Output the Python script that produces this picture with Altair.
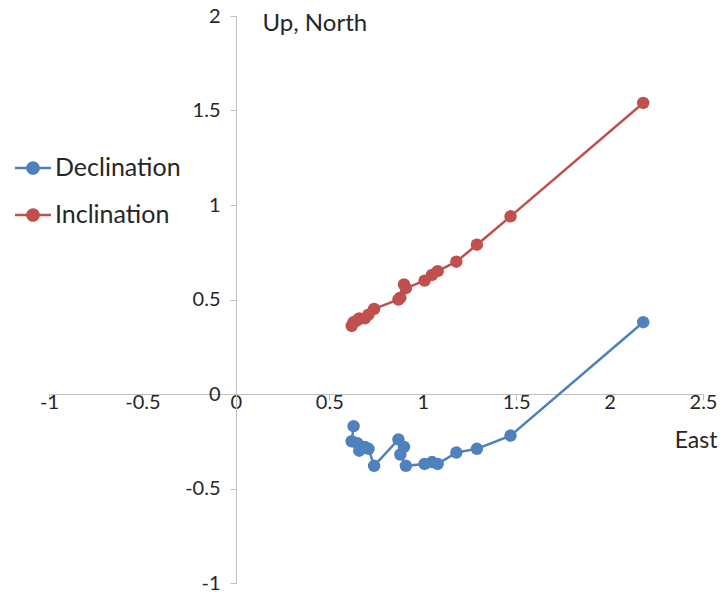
import altair as alt
import pandas as pd

# East coordinate shared by both series (data order as connected in the chart)
east = [2.18, 1.47, 1.29, 1.18, 1.08, 1.05, 1.01, 0.91, 0.88, 0.90, 0.87,
        0.74, 0.71, 0.69, 0.66, 0.65, 0.62, 0.63]
declination = [0.38, -0.22, -0.29, -0.31, -0.37, -0.36, -0.37, -0.38, -0.32,
               -0.28, -0.24, -0.38, -0.29, -0.28, -0.30, -0.26, -0.25, -0.17]
inclination = [1.54, 0.94, 0.79, 0.70, 0.65, 0.63, 0.60, 0.56, 0.51, 0.58,
               0.50, 0.45, 0.42, 0.40, 0.40, 0.39, 0.36, 0.38]

series_names = ["Declination", "Inclination"]
series_colors = ["#4F81BD", "#C0504D"]
x_ticks = [-1, -0.5, 0, 0.5, 1, 1.5, 2, 2.5]
y_ticks = [-1, -0.5, 0, 0.5, 1, 1.5, 2]

rows = []
for i, (e, d) in enumerate(zip(east, declination)):
    rows.append({"east": e, "value": d, "series": series_names[0], "idx": i})
for i, (e, v) in enumerate(zip(east, inclination)):
    rows.append({"east": e, "value": v, "series": series_names[1], "idx": i})
df = pd.DataFrame(rows)

FONT = "Lato"
AXIS_GREY = "#BFBFBF"
TEXT = "#262626"

W, H = 654, 567

x_enc = alt.X(
    "east:Q",
    scale=alt.Scale(domain=[-1, 2.5], nice=False, zero=False),
    axis=alt.Axis(
        values=x_ticks, labelExpr="datum.value + ''", offset=-189,
        grid=False, domainColor=AXIS_GREY, tickColor=AXIS_GREY, tickSize=6,
        labelPadding=-8, labelFontSize=20, labelFont=FONT, labelColor=TEXT,
        title="East", titleFont=FONT, titleFontSize=23, titleFontWeight="normal",
        titleColor=TEXT, titleX=668, titleY=46, titleAlign="right",
        titleBaseline="middle", labelFlush=False, labelOverlap=False,
    ),
)
y_enc = alt.Y(
    "value:Q",
    scale=alt.Scale(domain=[-1, 2], nice=False, zero=False),
    axis=alt.Axis(
        values=y_ticks, labelExpr="datum.value + ''", offset=-187,
        grid=False, domainColor=AXIS_GREY, tickColor=AXIS_GREY, tickSize=6,
        labelPadding=10, labelFontSize=20, labelFont=FONT, labelColor=TEXT,
        title="Up, North", titleFont=FONT, titleFontSize=24,
        titleFontWeight="normal", titleColor=TEXT, titleAngle=0,
        titleX=26, titleY=7, titleAlign="left", titleBaseline="middle",
        labelFlush=False, labelOverlap=False,
    ),
)

color_scale = alt.Scale(domain=series_names, range=series_colors)

# line segment plus filled marker, both wound clockwise so the overlap stays filled
legend_symbol = ("M-1,-0.07L1,-0.07L1,0.07L-1,0.07Z "
                 "M-0.38,0A0.38,0.38 0 1,1 0.38,0A0.38,0.38 0 1,1 -0.38,0Z")

legend = alt.Legend(
    title=None, orient="none", legendX=-34, legendY=134,
    symbolType=legend_symbol, symbolSize=1296, symbolOpacity=1,
    symbolStrokeWidth=0, labelFont=FONT, labelFontSize=25,
    labelColor=TEXT, labelOffset=4, rowPadding=16,
)

lines = alt.Chart(df).mark_line(strokeWidth=2.5).encode(
    x=x_enc, y=y_enc,
    color=alt.Color("series:N", scale=color_scale, legend=None),
    order=alt.Order("idx:Q"),
    detail="series:N",
)

points = alt.Chart(df).mark_circle(size=155, opacity=1).encode(
    x=x_enc, y=y_enc,
    color=alt.Color("series:N", scale=color_scale, legend=legend),
)

chart = (
    alt.layer(lines, points)
    .resolve_legend(color="independent")
    .properties(width=W, height=H, background="white",
                autosize=alt.AutoSizeParams(type="none"),
                padding={"left": 49, "top": 16, "right": 21, "bottom": 13})
    .configure_view(stroke=None)
)

chart.save("out.html", embed_options={"renderer": "svg", "actions": False})
